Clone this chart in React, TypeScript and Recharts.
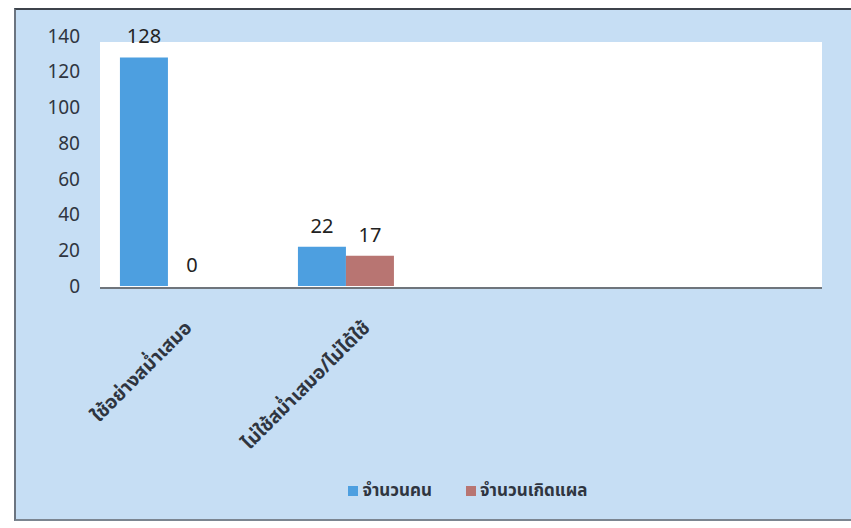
import { BarChart, Bar, XAxis, YAxis, Legend, LabelList } from 'recharts';

const CATEGORIES = ['ใช้อย่างสม่ำเสมอ', 'ไม่ใช้สม่ำเสมอ/ไม่ได้ใช้', '', ''];
const PEOPLE = [128, 22, null, null];
const WOUNDS = [0, 17, null, null];
const Y_TICKS = [0, 20, 40, 60, 80, 100, 120, 140];

const SERIES_PEOPLE = 'จำนวนคน';
const SERIES_WOUNDS = 'จำนวนเกิดแผล';

const BLUE = '#4d9fe0';
const RED = '#b87572';
const FONT = '"Noto Sans Thai", "Noto Sans", "DejaVu Sans", sans-serif';

const data = CATEGORIES.map((name, i) => ({
  name,
  people: PEOPLE[i],
  wounds: WOUNDS[i],
}));

// rotated category label, anchored a bit right of the band centre like the Excel original
function CategoryTick({ x, y, payload }: any) {
  if (!payload.value) return null;
  return (
    <g transform={`translate(${x + 25},${y + 35}) rotate(-45)`}>
      <text textAnchor="end" fontSize={19} fontWeight="bold" fill="#2f3540" fontFamily={FONT}>
        {payload.value}
      </text>
    </g>
  );
}

function ValueLabel({ x, y, width, value }: any) {
  if (value === null || value === undefined) return null;
  return (
    <text x={x + width / 2} y={y - 14} textAnchor="middle" fontSize={20} fill="#222" fontFamily={FONT}>
      {value}
    </text>
  );
}

// blue-bar label; also writes the "0" of a zero-height red bar next to it,
// since recharts gives no label to a bar with no height
function PeopleLabel(props: any) {
  const { x, y, width, height, index } = props;
  const zero = WOUNDS[index] === 0;
  return (
    <g>
      <ValueLabel {...props} />
      {zero && (
        <text x={x + width * 1.5} y={y + height - 14} textAnchor="middle" fontSize={20} fill="#222" fontFamily={FONT}>
          {WOUNDS[index]}
        </text>
      )}
    </g>
  );
}

export default function App() {
  return (
    <div style={{ position: 'absolute', left: 0, top: 0, width: 851, height: 528, background: '#fff', overflow: 'hidden' }}>
      {/* chart area background */}
      <div
        style={{
          position: 'absolute',
          left: 14,
          top: 8,
          width: 837,
          height: 509,
          background: '#c6def4',
          borderLeft: '2px solid #6b7480',
          borderTop: '2px solid #3d434b',
          borderBottom: '2px solid #7b8590',
        }}
      />
      {/* white plot area */}
      <div
        style={{
          position: 'absolute',
          left: 100,
          top: 42,
          width: 722,
          height: 245,
          background: '#fff',
          borderBottom: '2px solid #6f757c',
        }}
      />
      <div style={{ position: 'absolute', left: 0, top: 0 }}>
        <BarChart
          width={851}
          height={528}
          data={data}
          margin={{ top: 36, right: 60, bottom: 219, left: 0 }}
          barCategoryGap="23%"
          barGap={0}
        >
          <XAxis
            dataKey="name"
            axisLine={false}
            tickLine={false}
            interval={0}
            tick={<CategoryTick />}
            height={1}
          />
          <YAxis
            width={79}
            domain={[0, 140]}
            ticks={Y_TICKS}
            axisLine={false}
            tickLine={false}
            tickSize={0}
            tickMargin={0}
            tick={{ fontSize: 19, fill: '#2f3540', fontFamily: FONT, dx: 1 }}
          />
          <Legend
            iconType="square"
            iconSize={10}
            wrapperStyle={{
              position: 'absolute',
              top: 478,
              left: 288,
              width: 370,
              height: 22,
              fontFamily: FONT,
              fontSize: 17,
              fontWeight: 'bold',
              color: '#2f3540',
            }}
            formatter={(value: string) => (
              <span style={{ color: '#2f3540', marginRight: value === SERIES_PEOPLE ? 24 : 0 }}>{value}</span>
            )}
          />
          <Bar dataKey="people" name={SERIES_PEOPLE} fill={BLUE} isAnimationActive={false}>
            <LabelList dataKey="people" content={<PeopleLabel />} />
          </Bar>
          <Bar dataKey="wounds" name={SERIES_WOUNDS} fill={RED} isAnimationActive={false}>
            <LabelList dataKey="wounds" content={<ValueLabel />} />
          </Bar>
        </BarChart>
      </div>
    </div>
  );
}
